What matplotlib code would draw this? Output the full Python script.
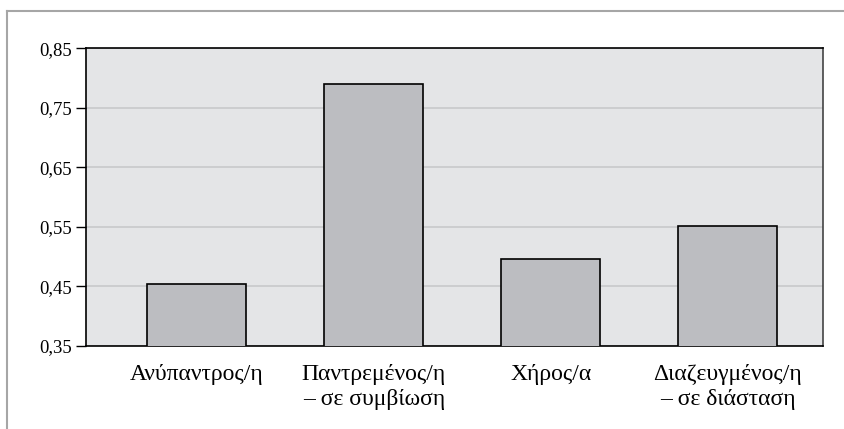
import matplotlib
matplotlib.use("Agg")
import matplotlib.pyplot as plt
from matplotlib.lines import Line2D
from matplotlib.ticker import FixedLocator, FuncFormatter

categories = ["Ανύπαντρος/η", "Παντρεμένος/η\n– σε συμβίωση", "Χήρος/α", "Διαζευγμένος/η\n– σε διάσταση"]
values = [0.454, 0.790, 0.496, 0.552]
yticks = [0.35, 0.45, 0.55, 0.65, 0.75, 0.85]

plt.rcParams['font.family'] = ['Liberation Serif', 'DejaVu Serif']

fig = plt.figure(figsize=(8.44, 4.29), dpi=100)
ax = fig.add_axes([86/844, 1-345.7/429, (822.7-86)/844, (345.7-48.3)/429])
ax.set_facecolor('#e4e5e7')

x = list(range(len(categories)))
ax.bar(x, values, width=0.56, bottom=0, color='#bcbdc1', edgecolor='black', linewidth=1.2, zorder=3)
ax.set_ylim(0.35, 0.85)
ax.set_xlim(-0.626, 3.536)
ax.yaxis.set_major_locator(FixedLocator(yticks))
ax.yaxis.set_major_formatter(FuncFormatter(lambda v, p: f"{v:.2f}".replace('.', ',')))
ax.grid(axis='y', color='#c8c9cb', linewidth=1.2, zorder=1)
ax.set_xticks(x)
ax.set_xticklabels(categories, fontsize=17, linespacing=1.25)
ax.tick_params(axis='x', length=0, pad=13)
ax.tick_params(axis='y', length=7, width=1, labelsize=13.5, pad=3, direction='out')
for s in ['left', 'bottom', 'top']:
    ax.spines[s].set_color('black')
    ax.spines[s].set_linewidth(1.2)
ax.spines['right'].set_color('#444444')
ax.spines['right'].set_linewidth(1.2)

fig.add_artist(Line2D([7/844, 1.0], [1-11/429, 1-11/429], color='#a6a6a6', linewidth=1.5, transform=fig.transFigure))
fig.add_artist(Line2D([7/844, 7/844], [0, 1-11/429], color='#a6a6a6', linewidth=1.5, transform=fig.transFigure))

fig.savefig('out.png', dpi=100)
